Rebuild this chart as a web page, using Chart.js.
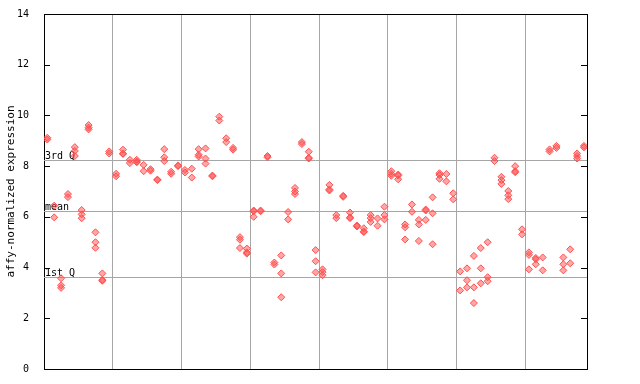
<!DOCTYPE html>
<html>
<head>
<meta charset="utf-8">
<script src="https://cdn.jsdelivr.net/npm/chart.js@4.4.1/dist/chart.umd.min.js"></script>
<style>
html,body{margin:0;padding:0;background:#fff;}
canvas{display:block;}
</style>
</head>
<body>
<canvas id="c" width="640" height="384"></canvas>
<script>
// ---- data ----
const yTicks = [0, 2, 4, 6, 8, 10, 12, 14];
const yTitle = "affy-normalized expression";
const groupBoundaries = [9.5, 19.5, 29.5, 39.5, 49.5, 59.5, 69.5];
const quartileLabels = ["3rd Q", "mean", "1st Q"];
const quartileValues = [8.23, 6.22, 3.62];
const sampleIndex = Array.from({length: 79}, (_, i) => i);
const sampleValues = [
  [9.12, 9.05], [6.44, 5.98], [3.58, 3.3, 3.2], [6.9, 6.78], [8.75, 8.6, 8.4],
  [6.27, 6.1, 5.95], [9.62, 9.52, 9.45], [5.39, 5.0, 4.78], [3.77, 3.51, 3.48], [8.58, 8.5],
  [7.7, 7.6], [8.65, 8.5, 8.48], [8.25, 8.12], [8.25, 8.18, 8.15], [8.05, 7.8],
  [7.88, 7.82], [7.47, 7.45], [8.67, 8.35, 8.2], [7.78, 7.7], [8.03, 8.0],
  [7.85, 7.75], [7.9, 7.55], [8.67, 8.45, 8.38], [8.7, 8.3, 8.1], [7.63, 7.6],
  [9.95, 9.8], [9.1, 8.95], [8.72, 8.65], [5.2, 5.1, 4.77], [4.75, 4.6, 4.55],
  [6.25, 6.22, 6.0], [6.25, 6.22], [8.4, 8.35], [4.2, 4.12], [4.48, 3.77, 2.83],
  [6.19, 5.9], [7.14, 7.0, 6.9], [8.95, 8.87], [8.57, 8.33, 8.3], [4.69, 4.25, 3.81],
  [3.93, 3.82, 3.7], [7.26, 7.08, 7.04], [6.07, 5.95], [6.83, 6.79], [6.17, 5.98, 5.95],
  [5.66, 5.62], [5.55, 5.42, 5.4], [6.07, 5.95, 5.8], [5.94, 5.65], [6.4, 6.07, 5.9],
  [7.8, 7.7, 7.62], [7.67, 7.63, 7.48], [5.7, 5.59, 5.11], [6.49, 6.2], [5.88, 5.7, 5.05],
  [6.29, 6.25, 5.88], [6.77, 6.14, 4.92], [7.72, 7.65, 7.5], [7.69, 7.4], [6.93, 6.69],
  [3.85, 3.1], [3.97, 3.5, 3.22], [4.46, 3.22, 2.6], [4.77, 3.97, 3.38], [5.0, 3.62, 3.46],
  [8.33, 8.2], [7.58, 7.45, 7.3], [7.02, 6.85, 6.7], [8.0, 7.8, 7.76], [5.51, 5.31],
  [4.6, 4.5, 3.93], [4.38, 4.33, 4.13], [4.4, 3.89], [8.66, 8.58], [8.8, 8.72],
  [4.4, 4.13, 3.89], [4.72, 4.17], [8.5, 8.4, 8.3], [8.8, 8.74]
];

const points = [];
sampleIndex.forEach((xi, k) => sampleValues[k].forEach(v => points.push({x: xi, y: v})));

const MONO = "'DejaVu Sans Mono', monospace";
const GRID = '#a6a6a6';

const framePlugin = {
  id: 'frame',
  beforeDatasetsDraw(chart) {
    const {ctx, chartArea: a, scales: {y}} = chart;
    ctx.save();
    ctx.strokeStyle = GRID;
    ctx.lineWidth = 1;
    quartileValues.forEach(v => {
      const py = Math.round(y.getPixelForValue(v)) + 0.5;
      ctx.beginPath(); ctx.moveTo(a.left, py); ctx.lineTo(a.right, py); ctx.stroke();
    });
    ctx.fillStyle = '#000';
    ctx.font = '10px ' + MONO;
    ctx.textAlign = 'left';
    ctx.textBaseline = 'alphabetic';
    quartileValues.forEach((v, i) => {
      const py = Math.round(y.getPixelForValue(v));
      ctx.fillText(quartileLabels[i], a.left + 1, py - 1);
    });
    ctx.restore();
  },
  afterDraw(chart) {
    const {ctx, chartArea: a, scales: {y}} = chart;
    ctx.save();
    ctx.strokeStyle = '#000';
    ctx.lineWidth = 1;
    ctx.beginPath();
    ctx.moveTo(a.left, Math.round(a.top) + 0.5); ctx.lineTo(a.right + 1, Math.round(a.top) + 0.5);
    ctx.moveTo(Math.round(a.right) + 0.5, a.top); ctx.lineTo(Math.round(a.right) + 0.5, a.bottom + 1);
    yTicks.forEach(t => {
      const py = Math.round(y.getPixelForValue(t)) + 0.5;
      ctx.moveTo(a.left, py); ctx.lineTo(a.left + 6, py);
      ctx.moveTo(a.right, py); ctx.lineTo(a.right - 6, py);
    });
    ctx.stroke();
    ctx.restore();
  }
};

new Chart(document.getElementById('c'), {
  type: 'scatter',
  data: {
    datasets: [{
      data: points,
      pointStyle: 'rectRot',
      pointRadius: 3.5,
      borderWidth: 1,
      borderColor: '#ff5050',
      backgroundColor: 'rgba(255,80,80,0.5)'
    }]
  },
  options: {
    responsive: false,
    devicePixelRatio: 1,
    animation: false,
    layout: {padding: {top: 14, right: 53, left: 0, bottom: 0}},
    plugins: {legend: {display: false}, tooltip: {enabled: false}},
    scales: {
      x: {
        type: 'linear',
        min: -0.48,
        max: 78.44,
        afterBuildTicks: s => { s.ticks = groupBoundaries.map(v => ({value: v})); },
        afterFit: s => { s.height = 15; },
        ticks: {display: false},
        grid: {color: GRID, lineWidth: 1, drawTicks: false},
        border: {display: true, color: '#000', width: 1}
      },
      y: {
        min: 0,
        max: 14,
        afterBuildTicks: s => { s.ticks = yTicks.map(v => ({value: v})); },
        afterFit: s => { s.width = 44; },
        ticks: {color: '#000', font: {family: MONO, size: 10}, padding: 7},
        grid: {display: false},
        border: {display: true, color: '#000', width: 1},
        title: {display: true, text: yTitle, color: '#000', font: {family: MONO, size: 11}, padding: {top: 5, bottom: 0}}
      }
    }
  },
  plugins: [framePlugin]
});
</script>
</body>
</html>
